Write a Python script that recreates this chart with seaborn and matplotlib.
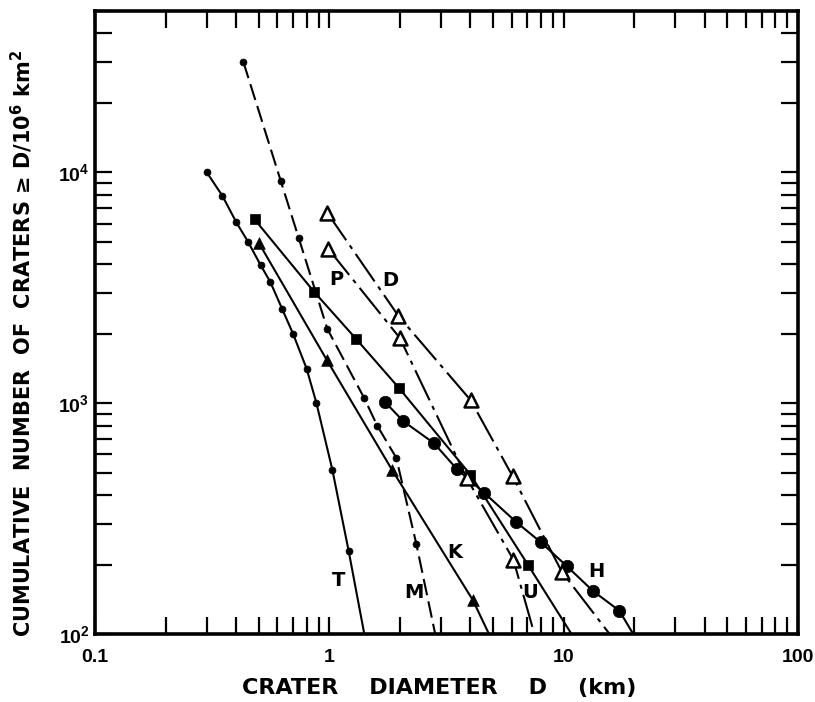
import numpy as np
import pandas as pd
import seaborn as sns
import matplotlib.pyplot as plt
from matplotlib.ticker import FixedLocator, FixedFormatter, NullFormatter, LogLocator

sns.set_style("ticks", {"axes.edgecolor": "black", "text.color": "black",
                        "xtick.color": "black", "ytick.color": "black",
                        "axes.labelcolor": "black"})
plt.rcParams['font.family'] = ['Liberation Sans', 'DejaVu Sans']
plt.rcParams['font.weight'] = 'bold'

# crater diameter D (km) and cumulative number >= D per 10^6 km^2
t_d = [0.30, 0.35, 0.40, 0.45, 0.51, 0.56, 0.63, 0.70, 0.80, 0.88, 1.03, 1.21]
t_n = [10000, 7900, 6100, 5000, 3950, 3350, 2550, 2000, 1410, 1005, 515, 228]
m_d = [0.43, 0.62, 0.74, 0.98, 1.41, 1.60, 1.93, 2.35]
m_n = [30000, 9200, 5200, 2100, 1050, 800, 580, 246]
k_d = [0.50, 0.975, 1.85, 4.1]
k_n = [4950, 1540, 515, 140]
sq_d = [0.48, 0.86, 1.30, 1.98, 4.0, 7.05]
sq_n = [6250, 3040, 1900, 1165, 490, 199]
h_d = [1.73, 2.07, 2.80, 3.49, 4.59, 6.26, 7.98, 10.3, 13.3, 17.3]
h_n = [1010, 835, 670, 520, 408, 306, 250, 197, 154, 126]
d_d = [0.98, 1.97, 4.01, 6.05, 9.82]
d_n = [6680, 2390, 1030, 483, 186]
p_d = [0.99, 2.0, 3.86, 6.1]
p_n = [4660, 1915, 473, 210]

# where each curve runs out at the bottom of the frame (no point drawn there)
end_d = {"T": 1.41, "M": 2.83, "K": 4.8, "S": 10.8, "H": 19.8, "D": 15.7, "P": 7.5}

labels = ["T", "M", "K", "U", "H", "P", "D"]
label_d = [1.09, 2.30, 3.44, 7.19, 13.8, 1.07, 1.815]
label_n = [170, 152, 226, 152, 187, 3450, 3390]

xticks = [0.1, 1, 10, 100]
xtick_labels = ["0.1", "1", "10", "100"]

fig = plt.figure(figsize=(8.15, 7.02), dpi=100)
ax = fig.add_axes([95 / 815, 1 - 634 / 702, 703 / 815, 623 / 702])

series = [
    ("T", t_d, t_n, "-", "o", 25, "black"),
    ("M", m_d, m_n, (0, (8, 3)), "o", 25, "black"),
    ("K", k_d, k_n, "-", "^", 70, "black"),
    ("S", sq_d, sq_n, "-", "s", 55, "black"),
    ("H", h_d, h_n, "-", "o", 80, "black"),
    ("D", d_d, d_n, (0, (16, 3, 2, 3)), "^", 100, "white"),
    ("P", p_d, p_n, (0, (16, 3, 2, 3)), "^", 100, "white"),
]

for name, xs, ys, ls, mk, size, face in series:
    line = pd.DataFrame({"d": xs + [end_d[name]], "n": ys + [100]})
    sns.lineplot(data=line, x="d", y="n", ax=ax, color="black", linewidth=1.5,
                 linestyle=ls, sort=False, zorder=2)
    pts = pd.DataFrame({"d": xs, "n": ys})
    sns.scatterplot(data=pts, x="d", y="n", ax=ax, marker=mk, s=size,
                    facecolor=face, edgecolor="black",
                    linewidth=1.8 if face == "white" else 0.5, zorder=3)

for lab, x, y in zip(labels, label_d, label_n):
    ax.text(x, y, lab, fontsize=14, fontweight="bold", ha="center", va="center",
            family=["DejaVu Sans"])

ax.set_xscale("log")
ax.set_yscale("log")
ax.set_xlim(0.1, 100)
ax.set_ylim(100, 50000)

ax.xaxis.set_major_locator(FixedLocator(xticks))
ax.xaxis.set_major_formatter(FixedFormatter(xtick_labels))
ax.xaxis.set_minor_locator(LogLocator(base=10, subs=np.arange(2, 10)))
ax.xaxis.set_minor_formatter(NullFormatter())
ax.yaxis.set_minor_locator(LogLocator(base=10, subs=np.arange(2, 10)))
ax.yaxis.set_minor_formatter(NullFormatter())

ax.tick_params(which="both", direction="in", top=True, right=True,
               length=12, width=1.6, labelsize=14)
ax.tick_params(axis="x", pad=11)
ax.tick_params(axis="y", pad=4)
for sp in ax.spines.values():
    sp.set_linewidth(2.6)

ax.set_xlabel("CRATER    DIAMETER    D    (km)", fontsize=16, fontweight="bold",
              family=["DejaVu Sans"])
ax.xaxis.set_label_coords(0.49, -0.087)
ax.xaxis.label.set_va("center")
ax.set_ylabel("CUMULATIVE  NUMBER  OF  CRATERS ≥ D/10$^6$ km$^2$",
              fontsize=15, fontweight="bold", family=["DejaVu Sans"])
ax.yaxis.set_label_coords(-0.104, 0.467)
ax.yaxis.label.set_va("center")

fig.savefig("out.png", dpi=100, facecolor="white")
